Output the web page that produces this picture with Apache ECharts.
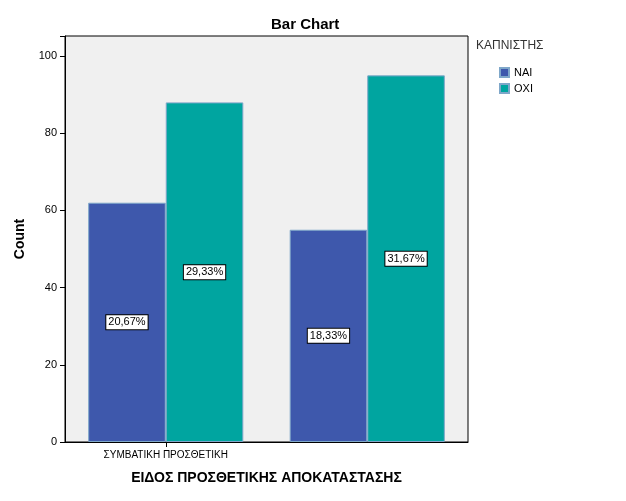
<!DOCTYPE html>
<html><head><meta charset="utf-8">
<script src="https://cdn.jsdelivr.net/npm/echarts@6/dist/echarts.min.js"></script>
<style>html,body{margin:0;padding:0;background:#fff}#c{width:626px;height:501px}</style>
</head><body><div id="c"></div>
<script>
const categories = ["ΣΥΜΒΑΤΙΚΗ ΠΡΟΣΘΕΤΙΚΗ", "ΠΡΟΣΘΕΤΙΚΗ ΣΕ ΕΜΦΥΤΕΥΜΑΤΑ"];
const seriesNames = ["ΝΑΙ", "ΟΧΙ"];
const naiValues = [62, 55];
const oxiValues = [88, 95];
const naiPct = ["20,67%", "18,33%"];
const oxiPct = ["29,33%", "31,67%"];
const yTicks = [0, 20, 40, 60, 80, 100];

const font = "Arial, 'Liberation Sans', sans-serif";
const lbl = pcts => ({
  show: true, position: 'inside', color: '#000', fontSize: 11, fontFamily: font,
  backgroundColor: '#fff', borderColor: '#000', borderWidth: 1, padding: [2, 2, 1, 2],
  formatter: p => pcts[p.dataIndex]
});
const chart = echarts.init(document.getElementById('c'));
chart.setOption({
  animation: false,
  title: { text: 'Bar Chart', left: 266, top: 12, textStyle: { fontSize: 15, fontWeight: 'bold', color: '#000', fontFamily: font } },
  legend: {
    orient: 'vertical', left: 494, top: 62, itemWidth: 9, itemHeight: 9, itemGap: 5,
    icon: 'rect', data: seriesNames,
    textStyle: { fontSize: 11, color: '#000', fontFamily: font }
  },
  graphic: [{ type: 'text', left: 476, top: 40, style: { text: 'ΚΑΠΝΙΣΤΗΣ', fontSize: 12, fill: '#333', fontFamily: font } }],
  grid: { left: 65, right: 158, top: 36, bottom: 59, show: true, backgroundColor: '#f0f0f0', borderColor: '#000', borderWidth: 1 },
  xAxis: {
    type: 'category', data: categories,
    name: 'ΕΙΔΟΣ ΠΡΟΣΘΕΤΙΚΗΣ ΑΠΟΚΑΤΑΣΤΑΣΗΣ', nameLocation: 'middle', nameGap: 29,
    nameTextStyle: { fontSize: 14, fontWeight: 'bold', color: '#000', fontFamily: font },
    axisLine: { lineStyle: { color: '#000' } },
    axisTick: { show: true, alignWithLabel: true, lineStyle: { color: '#000' } },
    axisLabel: { color: '#000', fontSize: 10, fontFamily: font, margin: 8 }
  },
  yAxis: {
    type: 'value', min: 0, max: 105.2, interval: 20,
    name: 'Count', nameLocation: 'middle', nameGap: 38,
    nameTextStyle: { fontSize: 14, fontWeight: 'bold', color: '#000', fontFamily: font },
    axisLine: { show: true, lineStyle: { color: '#000' } },
    axisTick: { show: true, lineStyle: { color: '#000' } },
    splitLine: { show: false },
    axisLabel: { color: '#000', fontSize: 11, fontFamily: font, formatter: v => yTicks.includes(v) ? v : '' }
  },
  series: [
    { name: seriesNames[0], type: 'bar', data: naiValues, barGap: '0%', barCategoryGap: '23%',
      itemStyle: { color: '#3e58ac', borderColor: '#7fa7c9', borderWidth: 1 }, label: lbl(naiPct) },
    { name: seriesNames[1], type: 'bar', data: oxiValues,
      itemStyle: { color: '#00a5a0', borderColor: '#7fa7c9', borderWidth: 1 }, label: lbl(oxiPct) }
  ]
});
</script></body></html>
